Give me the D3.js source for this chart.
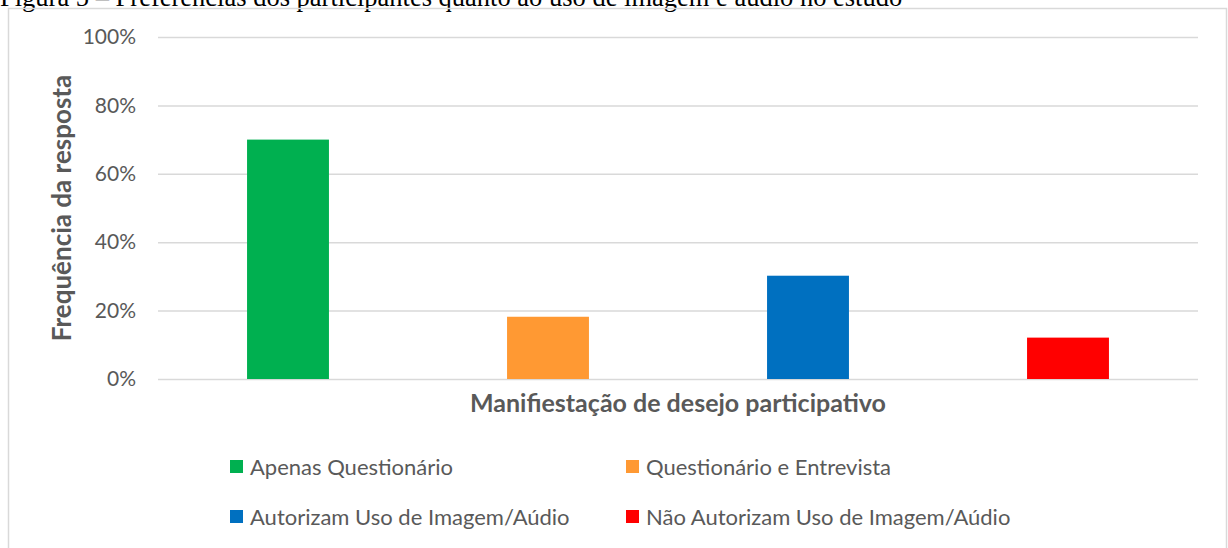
<!DOCTYPE html>
<html>
<head>
<meta charset="utf-8">
<script src="https://cdn.jsdelivr.net/npm/d3@7"></script>
<style>
  body { margin: 0; background: #fff; overflow: hidden; }
  svg { display: block; }
</style>
</head>
<body>
<div id="container"></div>
<script>
/* DATA */
const categories = ["Apenas Questionário", "Questionário e Entrevista",
                    "Autorizam Uso de Imagem/Aúdio", "Não Autorizam Uso de Imagem/Aúdio"];
const values = [0.70, 0.182, 0.302, 0.121];
const colors = ["#00B050", "#FF9933", "#0070C0", "#FF0000"];
const yTicks = [0, 0.2, 0.4, 0.6, 0.8, 1.0];

/* CONSTANTS AND GLOBALS */
const width = 1228,
      height = 548,
      margin = {top: 37, left: 158, bottom: 169, right: 30},
      font = "Lato, 'Open Sans', sans-serif",
      textColor = "#595959";

const svg = d3.select("#container")
              .append("svg")
              .attr("width", width)
              .attr("height", height)

// caption above the chart frame (cut off by the page top)
svg.append("text")
   .attr("x", 0)
   .attr("y", 5.5)
   .attr("font-family", "'Liberation Serif', 'Times New Roman', serif")
   .attr("font-size", 26.5)
   .attr("fill", "#000")
   .text("Figura 5 – Preferências dos participantes quanto ao uso de imagem e áudio no estudo")

// chart frame
svg.append("rect")
   .attr("x", 8.5)
   .attr("y", 8.5)
   .attr("width", 1218)
   .attr("height", 560)
   .attr("fill", "none")
   .attr("stroke", "#d9d9d9")
   .attr("stroke-width", 1.5)

// SCALES
const xScale = d3.scaleBand()
                 .domain(categories)
                 .range([margin.left, width - margin.right])
                 .paddingInner(0.685)
                 .paddingOuter(0.3425)

const yScale = d3.scaleLinear()
                 .domain([0, 1])
                 .range([height - margin.bottom, margin.top])

// GRIDLINES + Y AXIS
const yAxis = d3.axisLeft(yScale)
                .tickValues(yTicks)
                .tickFormat(d3.format(".0%"))
                .tickSize(-(width - margin.right - margin.left))
                .tickPadding(22)

svg.append("g")
   .attr("class", "y-axis")
   .attr("transform", `translate(${margin.left}, 0)`)
   .call(yAxis)
   .call(g => g.select(".domain").remove())
   .call(g => g.selectAll(".tick line").attr("stroke", "#d9d9d9").attr("stroke-width", 1.5))
   .call(g => g.selectAll(".tick text")
               .attr("font-family", font)
               .attr("font-size", 21)
               .attr("fill", textColor))

// BARS
svg.selectAll("rect.bar")
   .data(values)
   .join("rect")
   .attr("class", "bar")
   .attr("x", (d, i) => xScale(categories[i]))
   .attr("width", xScale.bandwidth())
   .attr("y", d => yScale(d))
   .attr("height", d => yScale(0) - yScale(d))
   .attr("fill", (d, i) => colors[i])

// AXIS TITLES
svg.append("text")
   .attr("x", (margin.left + width - margin.right) / 2)
   .attr("y", 412)
   .attr("text-anchor", "middle")
   .attr("font-family", font)
   .attr("font-weight", "bold")
   .attr("font-size", 25)
   .attr("fill", textColor)
   .text("Manifiestação de desejo participativo")

svg.append("text")
   .attr("transform", `translate(71, ${(yScale(0) + yScale(1)) / 2}) rotate(-90)`)
   .attr("text-anchor", "middle")
   .attr("font-family", font)
   .attr("font-weight", "bold")
   .attr("font-size", 26)
   .attr("fill", textColor)
   .text("Frequência da resposta")

// LEGEND (2 x 2)
const legendX = [230, 626],
      legendY = [467, 517];

const legend = svg.selectAll("g.legend-item")
                  .data(categories)
                  .join("g")
                  .attr("class", "legend-item")
                  .attr("transform", (d, i) => `translate(${legendX[i % 2]}, ${legendY[Math.floor(i / 2)]})`)

legend.append("rect")
      .attr("x", 0)
      .attr("y", -7)
      .attr("width", 13)
      .attr("height", 13)
      .attr("fill", (d, i) => colors[i])

legend.append("text")
      .attr("x", 20)
      .attr("y", 0)
      .attr("dy", "0.35em")
      .attr("font-family", font)
      .attr("font-size", 22)
      .attr("fill", textColor)
      .text(d => d)
</script>
</body>
</html>
